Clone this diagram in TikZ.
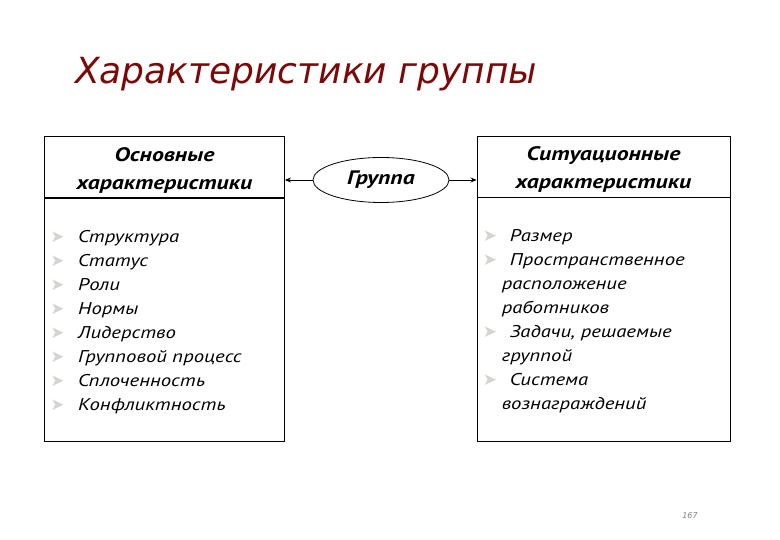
\documentclass[tikz,border=0pt]{standalone}
\usepackage{fontspec}
\setmainfont{PT Sans}[FakeStretch=1.22]
\newfontfamily\titlefont{DejaVu Sans}
\newfontfamily\symfont{DejaVu Sans}
\usepackage{xcolor}
\usetikzlibrary{arrows.meta,positioning,shapes.geometric}
\definecolor{titlered}{RGB}{122,10,10}
\definecolor{bulletgray}{RGB}{212,214,206}
\newcommand{\itm}[1]{\makebox[#1][l]{\symfont\fontsize{17}{17}\selectfont\color{bulletgray}\char"27A4}}
\newcommand{\hdstrut}{\rule{0pt}{20.5pt}}

\begin{document}
\begin{tikzpicture}[
  x=1pt, y=-1pt,
  headbox/.style={draw, line width=0.9pt, align=center, inner sep=0pt,
    minimum width=240pt, minimum height=61pt,
    font=\bfseries\itshape\fontsize{19.5}{28}\selectfont},
  listbox/.style={draw, line width=0.9pt, inner sep=0pt,
    minimum width=240pt, minimum height=243pt},
  listtext/.style={align=left, inner sep=0pt, anchor=north west,
    font=\itshape\fontsize{17}{24}\selectfont},
  arr/.style={-{Stealth[length=6pt,width=5pt]}, line width=0.8pt}
]
\useasboundingbox (0,0) rectangle (780,540);
\node[anchor=base west, inner sep=0pt, text=titlered,
  font=\titlefont\itshape\fontsize{36}{44}\selectfont] (title) at (75,84) {Характеристики группы};
% left column
\node[headbox] (osnHead) at (164.5,167) {\hdstrut Основные\\характеристики};
\node[listbox, below=0pt of osnHead] (osnList) {};
\node[listtext] (osnItems) at ([xshift=6pt,yshift=-32pt]osnList.north west) {%
  \itm{28pt}Структура\\
  \itm{28pt}Статус\\
  \itm{28pt}Роли\\
  \itm{28pt}Нормы\\
  \itm{28pt}Лидерство\\
  \itm{28pt}Групповой процесс\\
  \itm{28pt}Сплоченность\\
  \itm{28pt}Конфликтность};
% right column
\node[headbox, minimum width=253pt] (sitHead) at (603.5,166.5) {\hdstrut Ситуационные\\характеристики};
\node[listbox, minimum width=253pt, minimum height=243.5pt, below=0pt of sitHead] (sitList) {};
\node[listtext] (sitItems) at ([xshift=6pt,yshift=-32pt]sitList.north west) {%
  \itm{27pt}Размер\\
  \itm{27pt}Пространственное\\
  \hspace*{19pt}расположение\\
  \hspace*{19pt}работников\\
  \itm{27pt}Задачи, решаемые\\
  \hspace*{19pt}группой\\
  \itm{27pt}Система\\
  \hspace*{19pt}вознаграждений};
% centre
\node[ellipse, draw, line width=0.8pt, minimum width=136pt, minimum height=45pt, inner sep=0pt,
  font=\bfseries\itshape\fontsize{19.5}{22}\selectfont] (grp) at (381,180) {Группа};
\draw[arr] (grp.west) -- (grp.west -| osnHead.east);
\draw[arr] (grp.east) -- (grp.east -| sitHead.west);
\node[text=gray, font=\titlefont\itshape\fontsize{8}{8}\selectfont] (pgnum) at (690,516) {167};
\end{tikzpicture}
\end{document}
